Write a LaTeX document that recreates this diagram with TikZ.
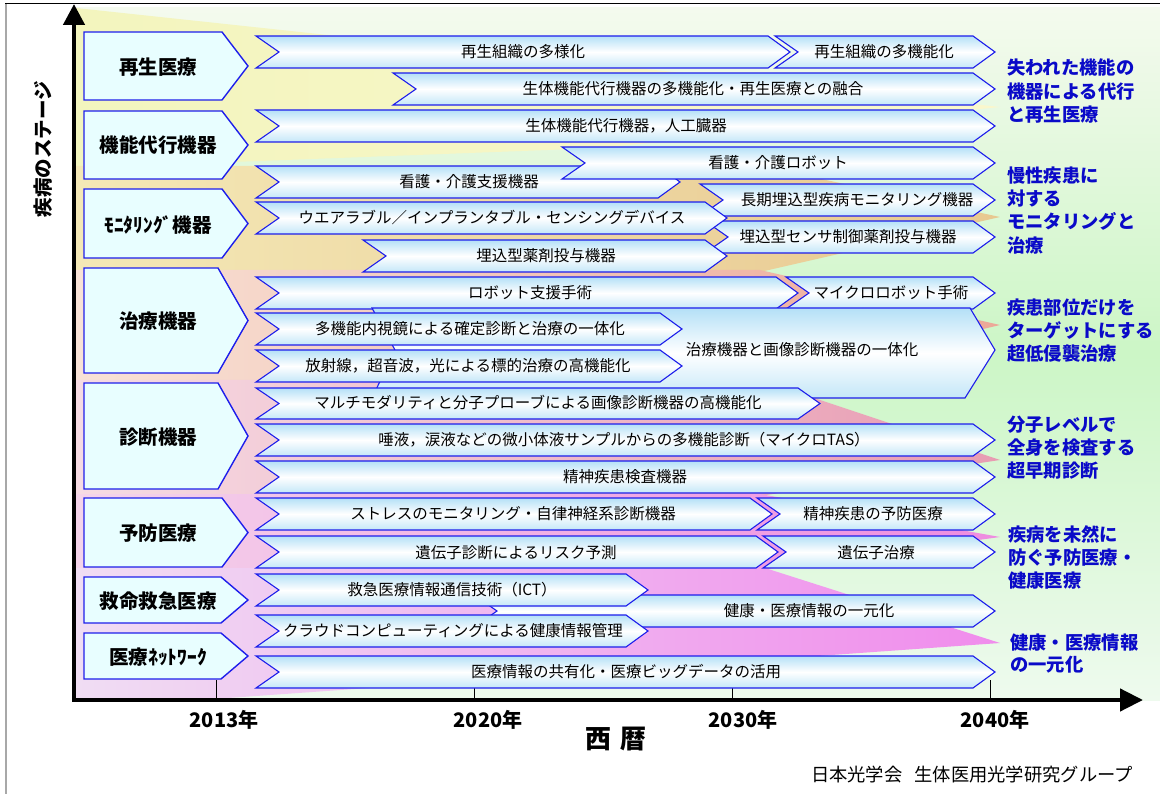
\documentclass[tikz,border=0pt]{standalone}
\usepackage{fontspec}
\setmainfont{Noto Sans CJK JP}
\usetikzlibrary{arrows.meta}
\definecolor{bblue}{RGB}{30,30,235}
\definecolor{arrtop}{RGB}{180,224,247}
\definecolor{arrbot}{RGB}{196,231,248}
\definecolor{catfill}{RGB}{232,254,255}
\definecolor{lblue}{RGB}{10,10,200}
\definecolor{bgtop}{RGB}{244,250,238}
\definecolor{bgmid}{RGB}{204,246,198}
\definecolor{bgbot}{RGB}{238,250,238}
\definecolor{b1l}{RGB}{243,245,190}
\definecolor{b1r}{RGB}{250,247,204}
\definecolor{b2l}{RGB}{244,232,182}
\definecolor{b2r}{RGB}{232,200,144}
\definecolor{b3l}{RGB}{248,226,214}
\definecolor{b3r}{RGB}{236,168,152}
\definecolor{b4l}{RGB}{246,219,227}
\definecolor{b4r}{RGB}{232,156,178}
\definecolor{b5l}{RGB}{244,212,234}
\definecolor{b5r}{RGB}{238,140,224}
\definecolor{b6l}{RGB}{240,221,243}
\definecolor{b6r}{RGB}{240,140,236}
\definecolor{framegray}{RGB}{168,168,168}
\newcommand\mychev[4]{\path[arrowshape] (#1,#3) -- ({#2-22},#3) -- (#2,{(#3+#4)/2}) -- ({#2-22},#4) -- (#1,#4) -- ({#1+23},{(#3+#4)/2}) -- cycle;}
\newcommand\mycat[3]{\path[catshape] (84,#1) -- (#3,#1) -- (248,{(#1+#2)/2}) -- (#3,#2) -- (84,#2) -- cycle;}
\begin{document}
\begin{tikzpicture}[x=1pt,y=-1pt,
  arrowshape/.style={draw=bblue, line width=1.1pt, top color=arrtop, bottom color=arrbot, middle color=white},
  catshape/.style={draw=bblue, line width=1.4pt, fill=catfill},
  atext/.style={font=\fontsize{15.5}{18}\selectfont, text=black, inner sep=0pt, text height=13.6pt, text depth=1.9pt},
  ctext/.style={font=\bfseries\fontsize{19.5}{22}\selectfont, text=black, inner sep=0pt, text height=17.2pt, text depth=2.3pt},
  rtext/.style={font=\bfseries\fontsize{18.3}{22}\selectfont, text=lblue, inner sep=0pt, anchor=west, text height=16.1pt, text depth=2.2pt},
  ytext/.style={font=\bfseries\fontsize{20}{24}\selectfont, text=black, inner sep=0pt, text height=17.6pt, text depth=2.4pt},
  axisline/.style={line width=4.5pt, line join=miter},
  tickline/.style={line width=1pt}
]
\useasboundingbox (0,0) rectangle (1160,794);
% frame
\draw[framegray, line width=2pt] (5.5,3) -- (5.5,794);
\draw[black, line width=1.4pt] (5,3.5) -- (1160,3.5);
% background
\path[top color=bgtop, bottom color=bgbot, middle color=bgmid] (76,8) rectangle (1160,700);
\path[left color=b1l, right color=b1r] (76,8) -- (1000,107) -- (600,148) -- (76,168) -- cycle;
\path[left color=b2l, right color=b2r] (76,166) -- (760,166) -- (1000,217) -- (760,272) -- (76,272) -- cycle;
\path[left color=b3l, right color=b3r] (76,270) -- (760,270) -- (1000,325) -- (760,382) -- (76,382) -- cycle;
\path[left color=b4l, right color=b4r] (76,380) -- (760,380) -- (1000,460) -- (760,496) -- (76,496) -- cycle;
\path[left color=b5l, right color=b5r] (76,494) -- (760,494) -- (1000,537) -- (760,570) -- (76,570) -- cycle;
\path[left color=b6l, right color=b6r] (76,568) -- (765,568) -- (1000,643) -- (200,700) -- (76,700) -- cycle;
% ticks
\draw[tickline] (216,680) -- (216,700);
\draw[tickline] (474,680) -- (474,700);
\draw[tickline] (732,680) -- (732,700);
\draw[tickline] (990,680) -- (990,700);
% category boxes
\mycat{32}{100}{222}
\mycat{111}{179}{222}
\mycat{189}{258}{222}
\mycat{268}{373}{218}
\mycat{383}{489}{218}
\mycat{498}{567}{222}
\mycat{577}{623}{221}
\mycat{633}{679}{221}
\node[ctext] (c1) at (158,67) {再生医療};
\node[ctext] (c2) at (158,145) {機能代行機器};
\node[ctext] (c3) at (158,225) {ﾓﾆﾀﾘﾝｸﾞ機器};
\node[ctext] (c4) at (158,321) {治療機器};
\node[ctext] (c5) at (158,437) {診断機器};
\node[ctext] (c6) at (158,533) {予防医療};
\node[ctext] (c7) at (158,601) {救命救急医療};
\node[ctext] (c8) at (158,657) {医療ﾈｯﾄﾜｰｸ};
% arrows
\mychev{256}{790}{36}{68}
\mychev{775}{995}{36}{68}
\mychev{393}{995}{73}{105}
\mychev{256}{995}{110}{142}
\mychev{256}{680}{166}{198}
\mychev{562}{995}{147}{179}
\mychev{700}{995}{184}{216}
\mychev{705}{995}{221}{253}
\mychev{256}{727}{202}{234}
\mychev{363}{727}{240}{272}
\mychev{256}{798}{277}{309}
\mychev{786}{995}{277}{309}
\path[arrowshape] (372,308) -- (970,308) -- (995,350) -- (965,398) -- (372,398) -- (395,350) -- cycle;
\mychev{256}{682}{313}{345}
\mychev{256}{682}{350}{382}
\mychev{256}{820}{388}{419}
\mychev{256}{995}{424}{456}
\mychev{256}{995}{461}{493}
\mychev{256}{772}{498}{530}
\mychev{757}{995}{498}{530}
\mychev{256}{778}{536}{568}
\mychev{763}{995}{536}{568}
\mychev{474}{995}{595}{627}
\mychev{256}{648}{574}{606}
\mychev{256}{648}{615}{647}
\mychev{256}{995}{656}{688}
% arrow texts
\node[atext] (t1) at (523,52) {再生組織の多様化};
\node[atext] (t2) at (884,52) {再生組織の多機能化};
\node[atext] (t3) at (693,89) {生体機能代行機器の多機能化・再生医療との融合};
\node[atext] (t4) at (626,126) {生体機能代行機器，人工臓器};
\node[atext] (t5) at (469,182) {看護・介護支援機器};
\node[atext] (t6) at (778,163) {看護・介護ロボット};
\node[atext] (t7) at (857,200) {長期埋込型疾病モニタリング機器};
\node[atext] (t8) at (848,237) {埋込型センサ制御薬剤投与機器};
\node[atext] (t9) at (492,218) {ウエアラブル／インプランタブル・センシングデバイス};
\node[atext] (t10) at (546,256) {埋込型薬剤投与機器};
\node[atext] (t11) at (530,293) {ロボット支援手術};
\node[atext] (t12) at (891,293) {マイクロロボット手術};
\node[atext] (t13) at (802,350) {治療機器と画像診断機器の一体化};
\node[atext] (t14) at (470,329) {多機能内視鏡による確定診断と治療の一体化};
\node[atext] (t15) at (468,366) {放射線，超音波，光による標的治療の高機能化};
\node[atext] (t16) at (538,403) {マルチモダリティと分子プローブによる画像診断機器の高機能化};
\node[atext] (t17) at (624,440) {唾液，涙液などの微小体液サンプルからの多機能診断（マイクロTAS）};
\node[atext] (t18) at (625,477) {精神疾患検査機器};
\node[atext] (t19) at (513,514) {ストレスのモニタリング・自律神経系診断機器};
\node[atext] (t20) at (873,514) {精神疾患の予防医療};
\node[atext] (t21) at (516,553) {遺伝子診断によるリスク予測};
\node[atext] (t22) at (876,553) {遺伝子治療};
\node[atext] (t23) at (452,590) {救急医療情報通信技術（ICT）};
\node[atext] (t24) at (809,611) {健康・医療情報の一元化};
\node[atext] (t25) at (453,631) {クラウドコンピューティングによる健康情報管理};
\node[atext] (t26) at (626,672) {医療情報の共有化・医療ビッグデータの活用};
% right labels
\node[rtext] (r11) at (1007,68) {失われた機能の};
\node[rtext] (r12) at (1007,92) {機器による代行};
\node[rtext] (r13) at (1007,115) {と再生医療};
\node[rtext] (r21) at (1007,176) {慢性疾患に};
\node[rtext] (r22) at (1007,199) {対する};
\node[rtext] (r23) at (1007,222) {モニタリングと};
\node[rtext] (r24) at (1007,246) {治療};
\node[rtext] (r31) at (1007,308) {疾患部位だけを};
\node[rtext] (r32) at (1007,331) {ターゲットにする};
\node[rtext] (r33) at (1007,354) {超低侵襲治療};
\node[rtext] (r41) at (1007,425) {分子レベルで};
\node[rtext] (r42) at (1007,448) {全身を検査する};
\node[rtext] (r43) at (1007,471) {超早期診断};
\node[rtext] (r51) at (1008,535) {疾病を未然に};
\node[rtext] (r52) at (1008,558) {防ぐ予防医療・};
\node[rtext] (r53) at (1008,581) {健康医療};
\node[rtext] (r61) at (1010,643) {健康・医療情報};
\node[rtext] (r62) at (1010,665) {の一元化};
% axes
\coordinate (O) at (74,700);
\coordinate (Ytop) at (74,4);
\coordinate (Xend) at (1143,700);
\draw[axisline, {Triangle[length=21pt,width=21pt]}-{Triangle[length=23pt,width=22pt]}] (Ytop) -- (O) -- (Xend);
\node[ytext] (y1) at (224,720) {2013年};
\node[ytext] (y2) at (488,720) {2020年};
\node[ytext] (y3) at (743,720) {2030年};
\node[ytext] (y4) at (995,720) {2040年};
\node[font=\bfseries\fontsize{26}{30}\selectfont, inner sep=0pt, text height=22.9pt, text depth=3.1pt] (xlab) at (616,739) {西\hspace{10pt}暦};
\node[font=\bfseries\fontsize{19.5}{22}\selectfont, inner sep=0pt, rotate=90, text height=17.2pt, text depth=2.3pt] (ylab) at (43,149) {疾病のステージ};
\node[font=\fontsize{18.3}{21}\selectfont, inner sep=0pt, text height=16.1pt, text depth=2.2pt] (credit) at (972,775) {日本光学会\hspace{12pt}生体医用光学研究グループ};
\end{tikzpicture}
\end{document}
